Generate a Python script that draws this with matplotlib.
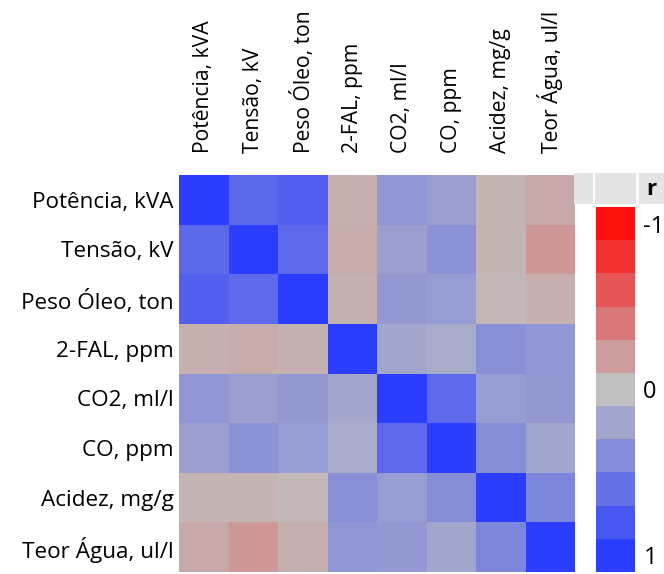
import numpy as np
import matplotlib
matplotlib.use("Agg")
import matplotlib.pyplot as plt
from matplotlib.colors import LinearSegmentedColormap
from matplotlib.patches import Rectangle

plt.rcParams['font.family'] = ['Open Sans', 'DejaVu Sans']

labels = ["Potência, kVA", "Tensão, kV", "Peso Óleo, ton", "2-FAL, ppm",
          "CO2, ml/l", "CO, ppm", "Acidez, mg/g", "Teor Água, ul/l"]

corr = [
    [1.00, 0.67, 0.74, -0.09, 0.32, 0.25, -0.07, -0.13],
    [0.67, 1.00, 0.66, -0.11, 0.25, 0.35, -0.07, -0.22],
    [0.74, 0.66, 1.00, -0.08, 0.30, 0.28, -0.04, -0.10],
    [-0.09, -0.11, -0.08, 1.00, 0.19, 0.16, 0.36, 0.32],
    [0.32, 0.25, 0.30, 0.19, 1.00, 0.66, 0.28, 0.30],
    [0.25, 0.35, 0.28, 0.16, 0.66, 1.00, 0.38, 0.20],
    [-0.07, -0.07, -0.04, 0.36, 0.28, 0.38, 1.00, 0.44],
    [-0.13, -0.22, -0.10, 0.32, 0.30, 0.20, 0.44, 1.00],
]

legend_steps = list(np.round(np.linspace(-1, 1, 11), 2))
legend_ticks = [-1, 0, 1]
legend_title = "r"

cmap = LinearSegmentedColormap.from_list(
    "rb", [(0.0, "#FF0E0E"), (0.5, "#C0C0C0"), (1.0, "#2B3DFF")])

W, H = 664, 574
fig = plt.figure(figsize=(W / 100, H / 100), dpi=100)

def fx(x):
    return x / W

def fy(y):
    return 1 - y / H

# main heatmap
hx0, hx1, hy0, hy1 = 179, 575, 175, 572
ax = fig.add_axes([fx(hx0), fy(hy1), fx(hx1 - hx0), (hy1 - hy0) / H])
data = np.array(corr)
n = len(labels)
ax.pcolormesh(np.arange(n + 1), np.arange(n + 1), data, cmap=cmap, vmin=-1, vmax=1)
ax.set_xlim(0, n)
ax.set_ylim(n, 0)
ax.set_xticks(np.arange(n) + 0.5)
ax.set_yticks(np.arange(n) + 0.5)
ax.xaxis.tick_top()
ax.set_xticklabels(labels, rotation=90, fontsize=15.2)
ax.set_yticklabels(labels, fontsize=16.2)
ax.tick_params(axis='x', length=0, pad=16)
ax.tick_params(axis='y', length=0, pad=4)
for s in ax.spines.values():
    s.set_visible(False)

# header boxes
for (x0, x1) in [(574, 593), (595, 636), (639, 664)]:
    fig.patches.append(Rectangle((fx(x0), fy(204)), fx(x1 - x0), 31 / H,
                                 transform=fig.transFigure, facecolor="#E4E4E4",
                                 edgecolor="none", zorder=5))
fig.text(fx(651), fy(189), legend_title, fontsize=16, fontweight="bold",
         ha="center", va="center", zorder=6)

# colorbar legend
cx0, cx1, cy0, cy1 = 596, 635, 207, 572
cax = fig.add_axes([fx(cx0), fy(cy1), fx(cx1 - cx0), (cy1 - cy0) / H])
steps = np.array(legend_steps)
cax.pcolormesh([0, 1], np.arange(len(steps) + 1), steps.reshape(-1, 1),
               cmap=cmap, vmin=-1, vmax=1)
cax.set_xlim(0, 1)
cax.set_ylim(len(steps), 0)
cax.set_xticks([])
cax.yaxis.tick_right()
tick_pos = [legend_steps.index(float(t)) + 0.5 for t in legend_ticks]
cax.set_yticks(tick_pos)
cax.set_yticklabels([str(t) for t in legend_ticks], fontsize=17)
cax.tick_params(axis='y', length=0, pad=6)
for s in cax.spines.values():
    s.set_visible(False)

fig.savefig("out.png", dpi=100)
